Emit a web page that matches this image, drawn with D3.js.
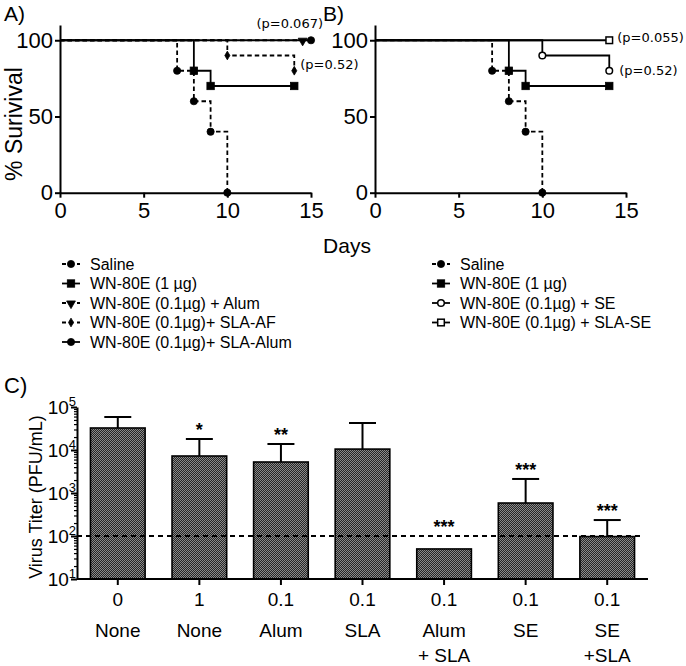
<!DOCTYPE html>
<html><head><meta charset="utf-8">
<script src="https://cdn.jsdelivr.net/npm/d3@7"></script>
<style>body{margin:0;background:#fff} text{font-family:'Liberation Sans',Arial,sans-serif;fill:#000}</style>
</head><body><svg id="c" width="686" height="666"></svg>
<script>
// ---------- data ----------
const dayTicks = [0, 5, 10, 15];
const survTicks = [0, 50, 100];
const salineT = [0, 7, 8, 9, 10],  salineS = [100, 80, 60, 40, 0];
const wn1T = [0, 8, 9, 14],        wn1S = [100, 80, 70, 70];
const alumT = [0, 14.5],           alumS = [100, 100];
const slaAfT = [0, 10, 14],        slaAfS = [100, 90, 80];
const slaAlumT = [0, 15],          slaAlumS = [100, 100];
const seT = [0, 10, 14],           seS = [100, 90, 80];
const slaSeT = [0, 14],            slaSeS = [100, 100];
const legendA = ["Saline", "WN-80E (1 µg)", "WN-80E (0.1µg) + Alum", "WN-80E (0.1µg)+ SLA-AF", "WN-80E (0.1µg)+ SLA-Alum"];
const legendB = ["Saline", "WN-80E (1 µg)", "WN-80E (0.1µg) + SE", "WN-80E (0.1µg) + SLA-SE"];
const pLabelsA = ["(p=0.067)", "(p=0.52)"];
const pLabelsB = ["(p=0.055)", "(p=0.52)"];

const doses = ["0", "1", "0.1", "0.1", "0.1", "0.1", "0.1"];
const adjuvants = [["None"], ["None"], ["Alum"], ["SLA"], ["Alum", "+ SLA"], ["SE"], ["SE", "+SLA"]];
const titer = [32500, 7250, 5260, 10500, 50, 585, 97];
const titerErr = [58500, 18000, 13800, 42500, null, 2120, 235];
const stars = ["", "*", "**", "", "***", "***", "***"];
const detectionLimit = 100;
const titerTicks = [10, 100, 1000, 10000, 100000];

// ---------- setup ----------
const svg = d3.select("#c");
const defs = svg.append("defs");
const pat = defs.append("pattern").attr("id", "hatch").attr("width", 2).attr("height", 2).attr("patternUnits", "userSpaceOnUse");
pat.append("rect").attr("width", 2).attr("height", 2).attr("fill", "#262626");
pat.append("rect").attr("width", 1).attr("height", 1).attr("fill", "#8a8a8a");
pat.append("rect").attr("x", 1).attr("y", 1).attr("width", 1).attr("height", 1).attr("fill", "#8a8a8a");

const series = {
  saline:  {t: salineT,  s: salineS,  dash: true,  sym: "circle",  open: false},
  wn1:     {t: wn1T,     s: wn1S,     dash: false, sym: "square",  open: false},
  alum:    {t: alumT,    s: alumS,    dash: true,  sym: "tri",     open: false},
  slaAf:   {t: slaAfT,   s: slaAfS,   dash: true,  sym: "diamond", open: false},
  slaAlum: {t: slaAlumT, s: slaAlumS, dash: false, sym: "circle",  open: false},
  se:      {t: seT,      s: seS,      dash: false, sym: "circle",  open: true},
  slaSe:   {t: slaSeT,   s: slaSeS,   dash: false, sym: "square",  open: true}
};

function marker(g, type, open, x, y) {
  let p;
  if (type === "circle") p = g.append("circle").attr("cx", x).attr("cy", y).attr("r", open ? 3.3 : 3.6);
  else if (type === "square") p = g.append("rect").attr("x", x - (open ? 3.3 : 3.7)).attr("y", y - (open ? 3.3 : 3.7)).attr("width", open ? 6.6 : 7.4).attr("height", open ? 6.6 : 7.4);
  else if (type === "tri") p = g.append("path").attr("d", d3.symbol(d3.symbolTriangle, 34)()).attr("transform", `translate(${x},${y + 0.5}) rotate(180)`);
  else p = g.append("path").attr("d", d3.symbol(d3.symbolDiamond, 22)()).attr("transform", `translate(${x},${y})`);
  p.attr("fill", open ? "#fff" : "#000").attr("stroke", "#000").attr("stroke-width", open ? 1.5 : 0.8);
}

function panel(x0, keys, label, labelX) {
  const x = d3.scaleLinear().domain([0, 15]).range([x0, x0 + 251]);
  const y = d3.scaleLinear().domain([0, 110]).range([192.7, 25]);
  const g = svg.append("g");
  const line = d3.line().x(d => x(d[0])).y(d => y(d[1])).curve(d3.curveStepAfter);
  keys.forEach(k => {
    const s = series[k];
    const pts = s.t.map((t, i) => [t, s.s[i]]);
    g.append("path").attr("d", line(pts)).attr("fill", "none").attr("stroke", "#000")
      .attr("stroke-width", 1.8).attr("stroke-dasharray", s.dash ? "4.5,3" : null);
  });
  keys.forEach(k => {
    const s = series[k];
    s.t.forEach((t, i) => { if (i > 0) marker(g, s.sym, s.open, x(t), y(s.s[i])); });
  });
  const xa = svg.append("g").attr("transform", "translate(0,192.7)")
    .call(d3.axisBottom(x).tickValues(dayTicks).tickSize(5).tickSizeOuter(0).tickPadding(5));
  const ya = svg.append("g").attr("transform", `translate(${x0},0)`)
    .call(d3.axisLeft(y).tickValues(survTicks).tickSize(5).tickSizeOuter(0).tickPadding(2));
  [xa, ya].forEach(a => {
    a.attr("font-family", null);
    a.selectAll("path,line").attr("stroke", "#000").attr("stroke-width", 2);
    a.selectAll("text").style("font-family", "'Liberation Sans',Arial,sans-serif").style("font-size", "22px").attr("fill", "#000");
  });
  svg.append("text").attr("x", labelX).attr("y", 21).style("font-size", "21px").text(label);
  return {x, y};
}

const A = panel(60, ["saline", "wn1", "alum", "slaAf", "slaAlum"], "A)", 4);
const B = panel(375, ["saline", "wn1", "se", "slaSe"], "B)", 323);

svg.append("text").attr("transform", "translate(22,124) rotate(-90)").attr("text-anchor", "middle")
  .style("font-size", "23px").text("% Surivival");
svg.append("text").attr("x", 347).attr("y", 253).attr("text-anchor", "middle").style("font-size", "21px").text("Days");

// p values
const pStyle = s => s.style("font-family", "'DejaVu Sans',sans-serif").style("font-size", "13px");
svg.append("text").attr("x", A.x(15) + 12).attr("y", A.y(100) - 12).attr("text-anchor", "end").call(pStyle).text(pLabelsA[0]);
svg.append("text").attr("x", A.x(14) + 6).attr("y", A.y(80) - 2).call(pStyle).text(pLabelsA[1]);
svg.append("text").attr("x", B.x(14) + 8).attr("y", B.y(100) + 2).call(pStyle).text(pLabelsB[0]);
svg.append("text").attr("x", B.x(14) + 10).attr("y", B.y(80) + 4).call(pStyle).text(pLabelsB[1]);

// legends
function legend(x0, items, keys) {
  const step = 19.5;
  items.forEach((name, i) => {
    const s = series[keys[i]];
    const cy = 264 + i * step;
    const g = svg.append("g");
    g.append("line").attr("x1", x0).attr("x2", x0 + 18).attr("y1", cy).attr("y2", cy)
      .attr("stroke", "#000").attr("stroke-width", 1.8).attr("stroke-dasharray", s.dash ? "4,3.5" : null);
    marker(g, s.sym, s.open, x0 + 9, cy);
    svg.append("text").attr("x", x0 + 28).attr("y", cy).attr("dy", "0.36em").style("font-size", "16px").text(name);
  });
}
legend(62, legendA, ["saline", "wn1", "alum", "slaAf", "slaAlum"]);
legend(432, legendB, ["saline", "wn1", "se", "slaSe"]);

// ---------- panel C ----------
svg.append("text").attr("x", 4).attr("y", 393).style("font-size", "22px").text("C)");
const xc = d3.scaleBand().domain(d3.range(titer.length)).range([77, 648]).paddingInner(0.33).paddingOuter(0.165);
const yc = d3.scaleLog().domain([10, 100000]).range([579, 407]);
const gc = svg.append("g");
gc.selectAll("rect.bar").data(titer).join("rect").attr("class", "bar")
  .attr("x", (d, i) => xc(i)).attr("width", xc.bandwidth())
  .attr("y", d => yc(d)).attr("height", d => yc(10) - yc(d))
  .attr("fill", "url(#hatch)").attr("stroke", "#000").attr("stroke-width", 1.6);
titerErr.forEach((e, i) => {
  if (e == null) return;
  const cx = xc(i) + xc.bandwidth() / 2;
  gc.append("line").attr("x1", cx).attr("x2", cx).attr("y1", yc(titer[i])).attr("y2", yc(e)).attr("stroke", "#000").attr("stroke-width", 2);
  gc.append("line").attr("x1", cx - 13.5).attr("x2", cx + 13.5).attr("y1", yc(e)).attr("y2", yc(e)).attr("stroke", "#000").attr("stroke-width", 2);
});
gc.append("line").attr("x1", 77).attr("x2", 642).attr("y1", yc(detectionLimit)).attr("y2", yc(detectionLimit))
  .attr("stroke", "#000").attr("stroke-width", 2).attr("stroke-dasharray", "5,4");
stars.forEach((s, i) => {
  if (!s) return;
  const top = titerErr[i] == null ? titer[i] : titerErr[i];
  const yy = Math.min(yc(top), yc(detectionLimit)) - 3;
  gc.append("text").attr("x", xc(i) + xc.bandwidth() / 2).attr("y", yy).attr("text-anchor", "middle")
    .style("font-size", "18px").style("font-weight", "bold").text(s);
});
// axes
const minor = [];
titerTicks.slice(0, -1).forEach(t => { for (let k = 2; k < 10; k++) minor.push(t * k); });
const yMin = svg.append("g").attr("transform", "translate(77,0)").call(d3.axisLeft(yc).tickValues(minor).tickSize(3).tickFormat(""));
const yMaj = svg.append("g").attr("transform", "translate(77,0)").call(d3.axisLeft(yc).tickValues(titerTicks).tickSize(6).tickSizeOuter(0).tickFormat(""));
const xAx = svg.append("g").attr("transform", "translate(0,579)").call(d3.axisBottom(xc).tickSize(6).tickSizeOuter(0).tickFormat(""));
[yMin, yMaj, xAx].forEach(a => a.selectAll("path,line").attr("stroke", "#000").attr("stroke-width", 2));
yMin.select("path").remove();
yMin.selectAll("line").attr("stroke-width", 1.2);
xAx.select("path").attr("d", "M77,0H648");
titerTicks.forEach(t => {
  const tx = svg.append("text").attr("x", 76).attr("y", yc(t) + 7).attr("text-anchor", "end").style("font-size", "19px");
  tx.append("tspan").text("10");
  tx.append("tspan").attr("dy", -8).style("font-size", "13px").text(Math.round(Math.log10(t)));
});
svg.append("text").attr("transform", "translate(42,497) rotate(-90)").attr("text-anchor", "middle").style("font-size", "18px").text("Virus Titer (PFU/mL)");
doses.forEach((d, i) => {
  const cx = xc(i) + xc.bandwidth() / 2;
  svg.append("text").attr("x", cx).attr("y", 606).attr("text-anchor", "middle").style("font-size", "19px").text(d);
  adjuvants[i].forEach((a, j) => {
    svg.append("text").attr("x", cx).attr("y", 637 + j * 25).attr("text-anchor", "middle").style("font-size", "19px").text(a);
  });
});
</script></body></html>
